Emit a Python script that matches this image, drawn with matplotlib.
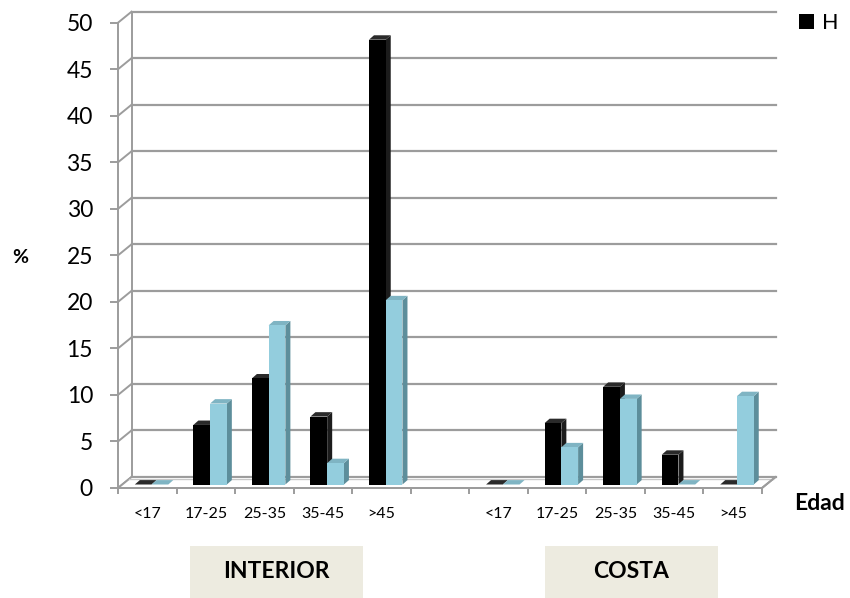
import matplotlib.pyplot as plt
from matplotlib.patches import Polygon, Rectangle

plt.rcParams['font.family'] = ['Lato', 'DejaVu Sans']

# data
categories = ['<17', '17-25', '25-35', '35-45', '>45', '',
              '<17', '17-25', '25-35', '35-45', '>45']
h_values = [0, 6.4, 11.4, 7.3, 47.8, None, 0, 6.6, 10.5, 3.2, 0]
m_values = [0, 8.7, 17.1, 2.3, 19.8, None, 0, 4.0, 9.2, 0, 9.5]
groups = ['INTERIOR', 'COSTA']
y_ticks = [0, 5, 10, 15, 20, 25, 30, 35, 40, 45, 50]

# figure / axes laid out in pixels of an 850x598 picture
W, H = 850, 598
fig = plt.figure(figsize=(8.5, 5.98), dpi=100)
x0, x1, y0, y1 = 118, 762, 488, 22.7
ax = fig.add_axes([x0 / W, 1 - y0 / H, (x1 - x0) / W, (y0 - y1) / H])
ax.set_xlim(-0.5, len(categories) - 0.5)
ax.set_ylim(0, 50)

px_x = (x1 - x0) / len(categories)   # pixels per category
px_y = (y0 - y1) / 50                  # pixels per unit

# 3D look: back wall offset and bar depth, in data units
wall_dx, wall_dy = 13.5 / px_x, 11 / px_y
bar_dx, bar_dy = 5 / px_x, 4.4 / px_y
lift = 3.5 / px_y
bar_w = 0.286
grid_col = '#9c9c9c'

xmin, xmax = ax.get_xlim()

# back wall gridlines + diagonals
for v in y_ticks:
    ax.plot([xmin + wall_dx, xmax + wall_dx], [v + wall_dy, v + wall_dy],
            color=grid_col, lw=1.6, clip_on=False, zorder=1)
    ax.plot([xmin, xmin + wall_dx], [v, v + wall_dy],
            color=grid_col, lw=1.4, clip_on=False, zorder=1)
ax.plot([xmin + wall_dx, xmin + wall_dx], [wall_dy, 50 + wall_dy],
        color=grid_col, lw=1.4, clip_on=False, zorder=1)

# floor
floor = Polygon([(xmin, 0), (xmax, 0), (xmax + wall_dx, wall_dy),
                 (xmin + wall_dx, wall_dy)], closed=True,
                facecolor='white', edgecolor=grid_col, lw=1.4,
                clip_on=False, zorder=1.5)
ax.add_patch(floor)
ax.plot([xmin + wall_dx * 0.8, xmax + wall_dx * 0.8],
        [wall_dy * 0.8, wall_dy * 0.8], color='#c8c8c8', lw=1,
        clip_on=False, zorder=1.6)


def draw_bars(values, offset, front, side, top, z):
    for i, v in enumerate(values):
        if v is None:
            continue
        left = i + offset
        b = lift
        t = lift + v
        ax.add_patch(Polygon([(left + bar_w, b), (left + bar_w + bar_dx, b + bar_dy),
                              (left + bar_w + bar_dx, t + bar_dy), (left + bar_w, t)],
                             closed=True, facecolor=side, edgecolor='none',
                             clip_on=False, zorder=z + i * 3))
        ax.add_patch(Polygon([(left, t), (left + bar_w, t),
                              (left + bar_w + bar_dx, t + bar_dy), (left + bar_dx, t + bar_dy)],
                             closed=True, facecolor=top, edgecolor='none',
                             clip_on=False, zorder=z + i * 3))
        if v > 0:
            ax.bar(left, v, width=bar_w, bottom=b, align='edge', color=front,
                   edgecolor='none', zorder=z + i * 3 + 0.5, clip_on=False)


draw_bars(h_values, -0.213, '#000000', '#1c1c1c', '#2a2a2a', 2)
draw_bars(m_values, 0.073, '#93CDDD', '#5D8E9B', '#7FB4C3', 3)

# axes lines and ticks
for s in ['top', 'right']:
    ax.spines[s].set_visible(False)
for s in ['left', 'bottom']:
    ax.spines[s].set_color(grid_col)
    ax.spines[s].set_linewidth(1.4)
    ax.spines[s].set_zorder(1.7)
ax.plot([xmax, xmax + wall_dx], [0, wall_dy], color=grid_col, lw=1.4,
        clip_on=False, zorder=1.6)

ax.set_yticks(y_ticks)
ax.tick_params(axis='y', direction='out', length=6, width=1.4,
               color=grid_col, labelsize=16.5, pad=12)
ax.set_xticks([k - 0.5 for k in range(len(categories) + 1)])
ax.set_xticklabels([])
ax.set_xticks(range(len(categories)), minor=True)
ax.set_xticklabels(categories, minor=True)
ax.tick_params(axis='x', which='major', direction='out', length=4,
               width=1.4, color=grid_col)
ax.tick_params(axis='x', which='minor', length=0, labelsize=11.5, pad=14)

# labels
fig.text(20 / W, 1 - 258 / H, '%', fontsize=14, fontweight='bold',
         ha='center', va='center')
fig.text(820 / W, 1 - 503 / H, 'Edad', fontsize=16.5, fontweight='bold',
         ha='center', va='center')

# legend
handle = Rectangle((0, 0), 1, 1, facecolor='black')
fig.legend([handle], ['H'], loc='center left',
           bbox_to_anchor=(799 / W, 1 - 23 / H), frameon=False,
           fontsize=15.5, handlelength=0.7, handleheight=0.7,
           handletextpad=0.35, borderpad=0, borderaxespad=0)

# group boxes
for name, bx in zip(groups, [190, 545]):
    fig.patches.append(Rectangle((bx / W, 0), 173 / W, 52 / H,
                                 transform=fig.transFigure,
                                 facecolor='#EDEBE0', edgecolor='none'))
    fig.text((bx + 86.5) / W, 26 / H, name, fontsize=16.5,
             fontweight='bold', ha='center', va='center')

fig.savefig('out.png', dpi=100)
